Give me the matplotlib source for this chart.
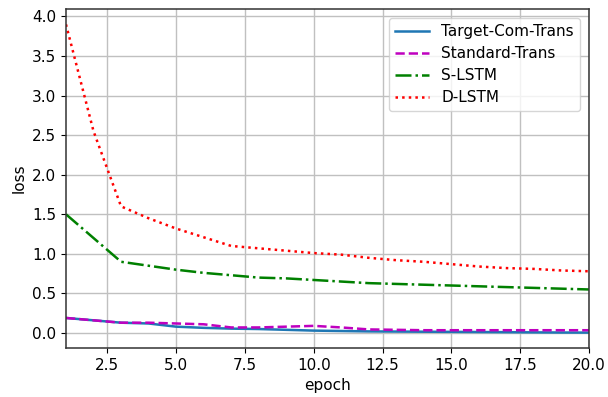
import matplotlib
matplotlib.use("Agg")
import matplotlib.pyplot as plt

epochs = list(range(1, 21))

target_com_trans = [0.19, 0.16, 0.13, 0.12, 0.08, 0.065, 0.055, 0.05, 0.04, 0.03,
                    0.025, 0.02, 0.018, 0.016, 0.014, 0.012, 0.01, 0.008, 0.006, 0.005]
standard_trans = [0.19, 0.16, 0.13, 0.13, 0.12, 0.11, 0.07, 0.07, 0.08, 0.09,
                  0.07, 0.045, 0.04, 0.035, 0.035, 0.035, 0.035, 0.035, 0.035, 0.035]
s_lstm = [1.50, 1.20, 0.90, 0.85, 0.80, 0.76, 0.73, 0.70, 0.69, 0.67,
          0.65, 0.63, 0.62, 0.61, 0.60, 0.59, 0.58, 0.57, 0.56, 0.55]
d_lstm = [3.90, 2.55, 1.60, 1.45, 1.32, 1.21, 1.10, 1.07, 1.04, 1.01,
          0.99, 0.95, 0.92, 0.90, 0.87, 0.84, 0.82, 0.81, 0.79, 0.78]

series = [
    ("Target-Com-Trans", target_com_trans, "-", "#1f77b4"),
    ("Standard-Trans", standard_trans, "--", "m"),
    ("S-LSTM", s_lstm, "-.", "g"),
    ("D-LSTM", d_lstm, ":", "r"),
]

fig = plt.figure(figsize=(6.08, 3.97), dpi=100)
ax = fig.add_axes([66 / 608, 1 - 348 / 397, 523 / 608, 339 / 397])

for name, vals, ls, color in series:
    ax.plot(epochs, vals, linestyle=ls, color=color, linewidth=1.8, label=name)

ax.set_xlim(1, 20)
ax.set_xlabel("epoch", fontsize=11)
ax.set_ylabel("loss", fontsize=11)
ax.tick_params(labelsize=11)
ax.grid(True, color="#c0c0c0", linewidth=1.0)
for sp in ax.spines.values():
    sp.set_linewidth(1.1)
    sp.set_color("#333333")
ax.legend(loc="upper right", fontsize=11, handlelength=2.2, borderaxespad=0.6,
          labelspacing=0.45)

fig.savefig("out.png", dpi=100)
